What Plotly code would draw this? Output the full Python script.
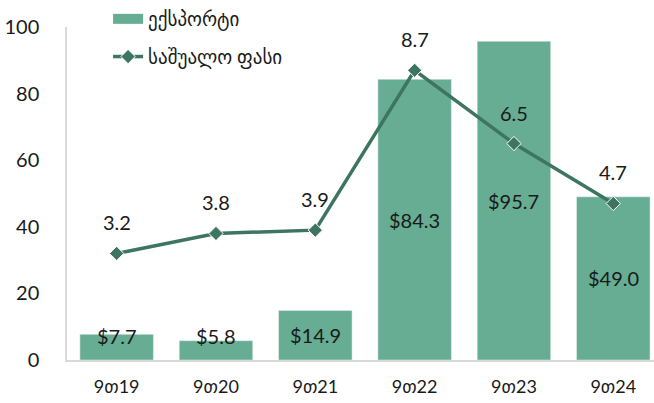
import plotly.graph_objects as go

categories = ["9თ19", "9თ20", "9თ21", "9თ22", "9თ23", "9თ24"]
exports = [7.7, 5.8, 14.9, 84.3, 95.7, 49.0]
avg_price = [3.2, 3.8, 3.9, 8.7, 6.5, 4.7]
y_ticks = [0, 20, 40, 60, 80, 100]

BAR = "#66ad93"
LINE = "#3e7561"
FONT = "Lato, DejaVu Sans, sans-serif"
TXT = "#1a1a1a"

fig = go.Figure()
fig.add_trace(go.Bar(
    x=categories, y=exports, name="ექსპორტი",
    marker=dict(color=BAR, line=dict(color="#e8f2ee", width=0.5)),
    width=0.74, yaxis="y", showlegend=False,
))
# legend swatch for the bars (wide rectangle like the reference)
fig.add_trace(go.Scatter(
    x=[None], y=[None], name="ექსპორტი", mode="lines",
    line=dict(color=BAR, width=15), legendgroup="a", showlegend=True,
))
fig.add_trace(go.Scatter(
    x=categories, y=avg_price, name="საშუალო ფასი",
    mode="lines+markers", yaxis="y2", legendgroup="b",
    line=dict(color=LINE, width=3.5),
    marker=dict(symbol="diamond", size=11, color=LINE, line=dict(color="white", width=1)),
))

annotations = []
for c, v in zip(categories, exports):
    annotations.append(dict(x=c, y=max(v / 2, 7.3), xref="x", yref="y",
                            text=f"${v:.1f}", showarrow=False,
                            font=dict(size=20, color=TXT, family=FONT)))
for c, v in zip(categories, avg_price):
    annotations.append(dict(x=c, y=v, xref="x", yref="y2", yshift=31,
                            text=f"{v:.1f}", showarrow=False,
                            font=dict(size=20, color=TXT, family=FONT)))

fig.update_layout(
    width=654, height=403,
    margin=dict(l=67, r=0, t=0, b=43, autoexpand=False),
    paper_bgcolor="white", plot_bgcolor="white",
    font=dict(family=FONT, size=19, color=TXT),
    showlegend=True,
    legend=dict(x=0.07, y=1.0, xanchor="left", yanchor="top",
                orientation="v", tracegroupgap=10,
                font=dict(size=19, color=TXT, family=FONT),
                bgcolor="rgba(0,0,0,0)"),
    xaxis=dict(range=[-0.5, 5.41], showgrid=False, showline=True, automargin=False,
               linecolor="#d9d9d9", linewidth=1.5, ticks="",
               tickfont=dict(size=18, color=TXT), ticklabelstandoff=10),
    yaxis=dict(range=[0, 100], tickvals=y_ticks, showgrid=False, zeroline=False,
               domain=[0, 0.925], automargin=False,
               showline=True, linecolor="#d9d9d9", linewidth=1.5, ticks="",
               tickfont=dict(size=20, color=TXT), ticklabelstandoff=22),
    yaxis2=dict(range=[0, 10], overlaying="y", visible=False, showgrid=False),
    annotations=annotations,
)

fig.write_html("out.html", config={"displayModeBar": False},
               post_script="document.body.style.margin='0';document.body.style.overflow='hidden';")
